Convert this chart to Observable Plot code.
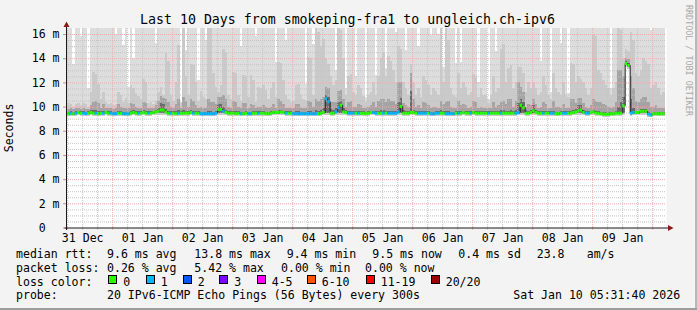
<!DOCTYPE html>
<html><head><meta charset="utf-8">
<script src="https://cdn.jsdelivr.net/npm/d3@7"></script>
<script src="https://cdn.jsdelivr.net/npm/@observablehq/plot@0.6"></script>
<style>
html,body{margin:0;padding:0;background:#F3F3F3;}
#chart{position:relative;width:697px;height:310px;background:#F3F3F3;overflow:hidden;font-family:"DejaVu Sans Mono",monospace;color:#000;}
#chart svg{position:absolute;left:0;top:0;}
.t{position:absolute;white-space:pre;font-size:11.55px;line-height:11.55px;}
.box{position:absolute;width:7px;height:7px;border:1px solid #000;}
#bR{position:absolute;right:0;top:0;width:2px;height:310px;background:#B8B8B8;}
#bB{position:absolute;left:0;bottom:0;width:697px;height:2px;background:#9E9E9E;}
</style></head><body>
<div id="chart"><div id="bR"></div><div id="bB"></div></div>
<script>
// ---- data: hourly buckets starting 2025-12-31 05:00 UTC (240 buckets) ----
const median = [
9.5,9.45,9.5,9.45,9.5,9.55,9.5,9.5,9.45,9.5,9.55,9.5,9.5,9.45,9.5,9.5,9.55,9.5,9.5,9.45,9.45,9.5,9.5,9.45,
9.45,9.45,9.5,9.55,9.5,9.5,9.5,9.55,9.5,9.5,9.5,9.55,9.6,9.65,9.75,9.75,9.6,9.5,9.5,9.5,9.45,9.5,9.5,9.5,
9.5,9.5,9.55,9.5,9.5,9.5,9.45,9.45,9.45,9.45,9.45,9.45,9.5,9.8,9.8,9.65,9.55,9.5,9.5,9.5,9.45,9.5,9.45,9.45,
9.5,9.45,9.45,9.5,9.5,9.5,9.5,9.5,9.45,9.45,9.5,9.55,9.55,9.55,9.6,9.55,9.5,9.5,9.5,9.45,9.45,9.45,9.45,9.45,
9.45,9.45,9.45,9.45,9.45,9.45,9.5,9.55,10.7,10.45,9.5,9.5,9.6,9.95,10.15,9.6,9.55,9.5,9.5,9.5,9.5,9.5,9.5,9.5,
9.45,9.5,9.55,9.55,9.5,9.5,9.5,9.5,9.5,9.5,9.5,9.5,9.5,9.6,10.05,9.5,9.5,9.5,9.55,9.55,9.5,9.5,9.5,9.5,
9.5,9.5,9.45,9.45,9.5,9.5,9.5,9.5,9.45,9.45,9.45,9.45,9.5,9.5,9.5,9.55,9.5,9.5,9.5,9.55,9.5,9.5,9.5,9.5,
9.5,9.5,9.5,9.5,9.5,9.5,9.5,9.5,9.5,9.5,9.5,9.5,9.5,9.55,10.15,9.95,9.5,9.5,9.55,9.7,9.55,9.5,9.5,9.5,
9.5,9.5,9.5,9.5,9.45,9.45,9.5,9.5,9.5,9.5,9.5,9.55,9.6,9.7,9.75,9.55,9.5,9.5,9.55,9.6,9.5,9.5,9.45,9.4,
9.4,9.4,9.45,9.45,9.5,9.5,9.5,10.1,13.6,13.45,9.5,9.55,9.55,9.55,9.65,9.65,9.65,9.4,9.35,9.45,9.45,9.45,9.45,9.45];
const lostPings = [
1,0,1,0,1,0,0,1,1,0,0,0,1,0,0,1,0,0,1,1,1,0,0,1,
1,1,0,0,0,1,0,0,0,1,0,0,0,0,0,0,0,0,1,0,0,1,0,0,
0,0,0,1,0,0,1,1,1,1,1,1,1,0,0,1,0,0,0,0,0,0,1,0,
0,1,1,0,0,1,0,0,0,0,0,0,0,0,0,0,1,0,0,1,1,1,1,1,
1,1,1,1,1,0,0,0,1,1,0,0,1,1,0,0,0,1,1,1,0,1,0,0,
0,0,0,1,1,0,0,1,0,1,1,1,1,1,0,0,0,0,0,0,0,1,1,1,
1,0,1,1,1,1,0,0,1,1,1,1,0,1,0,0,0,0,1,0,0,0,0,0,
0,1,0,0,0,0,1,0,0,0,0,0,1,1,0,0,0,0,0,0,0,0,0,1,
0,0,1,1,0,0,0,1,1,0,0,0,0,0,0,0,1,1,0,0,0,0,0,0,
0,0,0,0,0,0,0,0,0,0,1,1,0,0,0,0,0,1,1,0,0,0,0,0];
const pingMax = [
17,17,17,13.5,17,17,15.8,17,17,11.5,17,17,17,17,17,17,17,17,17,17,16.0,17,17,15.1,
17,11.6,17,14.0,17,17,17,17,17,17,17,17,15.3,17,17,17,17,17,17,17,17,17,10.4,17,
14.7,17,17,17,17,12.2,17,17,15.5,17,17,17,17,17,17,17,17,17,17,17,17,17,15.0,17,
17,17,17,17,15.8,17,17,17,17,17,17,17,13.7,17,17,17,15.5,17,17,17,17,17,17,17,
11.9,17,17,15.2,17,17,17,17,17,17,17,17,13.0,17,17,17,11.5,17,17,17,12.5,17,17,17,
10.8,17,17,17,12.6,17,17,17,13.2,17,17,17,16.2,17,17,17,14.7,17,17,17,17,15.0,17,17,
17,17,15.9,17,17,16.0,17,13.3,17,17,17,17,13.6,17,13.7,17,17,17,17,17,17,12.0,17,17,
17,10.6,17,17,14.6,17,17,17,17,17,17,17,17,17,17,17,17,17,17,17,17,17,13.8,17,
17,17,11.2,17,17,17,15.3,17,17,11.1,17,17,17,17,17,17,17,17,17,17,17,17,17,17,
17,17,11.5,17,17,17,17,17,17,17,17,17,17,17,17,17,17,17,16.3,17,17,17,17,17];
const pingP19 = [
10.8,10.3,10.2,10.0,10.2,10.3,10.1,10.3,10.2,10.0,11.2,12.9,12.7,11.9,10.6,11.2,10.4,10.2,10.3,10.1,10.2,11.2,11.0,10.4,
10.7,10.3,11.8,11.5,11.1,10.9,10.6,12.3,12.0,10.3,10.4,10.2,10.5,11.2,11.6,11.0,14.4,13.8,11.0,10.5,12.0,15.1,10.3,16.8,
12.5,11.0,13.5,13.4,12.0,10.5,11.3,10.8,10.6,16.8,16.8,12.8,11.6,11.2,11.8,14.8,14.5,11.0,10.6,12.9,12.8,11.0,10.5,12.6,
12.5,10.8,12.6,12.2,10.4,11.6,11.5,11.8,11.4,10.6,11.5,12.0,10.8,13.7,13.6,12.2,11.0,10.6,10.4,10.5,11.8,11.9,11.0,10.6,
10.5,14.1,14.0,11.0,16.5,16.2,15.0,15.6,14.0,13.5,12.5,11.8,12.2,16.6,16.3,14.0,11.0,12.5,12.7,11.2,11.0,11.8,11.5,10.9,
10.4,11.0,11.2,12.0,11.0,12.5,14.0,14.5,12.5,14.2,13.8,13.0,12.0,15.0,14.8,12.0,11.5,11.0,13.5,12.0,11.0,11.5,10.8,12.5,
12.2,11.8,11.0,11.5,11.3,11.0,16.6,12.0,16.5,15.5,11.5,11.0,10.8,12.8,11.5,12.0,11.6,11.0,11.2,12.7,12.5,10.8,11.5,11.0,
11.0,10.3,11.0,12.5,11.2,11.5,14.8,15.2,12.0,13.2,13.4,11.5,12.0,13.3,13.3,12.8,11.2,12.0,11.5,12.0,11.5,11.0,11.2,12.5,
11.8,11.0,10.6,12.8,11.5,11.2,11.0,12.0,11.0,10.8,13.6,13.5,12.0,12.5,12.3,12.0,11.5,11.0,11.5,16.0,15.8,13.0,12.8,12.2,
11.8,11.5,11.0,11.5,12.0,16.5,16.3,14.0,14.8,14.6,16.2,15.5,12.8,12.5,13.0,14.0,13.8,13.5,11.5,11.8,12.0,11.5,11.0,11.2];
const pingP17 = [
9.9,9.8,9.85,9.8,9.85,9.9,9.8,9.85,9.8,9.8,10.1,10.4,10.5,10.3,9.9,10.2,9.9,9.85,9.9,9.8,9.85,10.2,10.0,9.85,
9.9,9.85,10.3,10.2,10.0,9.9,9.9,10.4,10.3,9.85,9.9,9.9,10.1,10.5,10.9,10.7,10.6,10.4,10.0,9.9,10.2,10.6,9.9,10.8,
10.5,10.0,10.6,10.5,10.1,9.9,10.0,9.85,9.85,10.6,10.4,10.4,10.2,10.8,10.8,11.0,10.6,10.0,9.9,10.5,10.4,10.0,9.9,10.3,
10.3,9.9,10.2,10.1,9.85,10.0,10.0,10.1,10.0,9.85,10.0,10.2,9.9,10.6,10.5,10.2,9.9,9.85,9.85,9.85,10.2,10.2,9.9,9.85,
9.85,10.5,10.4,10.0,10.6,10.5,10.6,10.8,11.6,11.5,10.4,10.4,10.4,11.3,11.4,10.6,10.0,10.4,10.5,10.0,10.0,10.2,10.1,9.9,
9.85,10.0,10.1,10.4,10.0,10.5,10.6,10.6,10.4,10.6,10.5,10.5,10.2,12.0,12.0,10.3,10.1,10.0,12.8,10.6,10.0,10.1,9.9,10.4,
10.3,10.1,9.9,10.0,10.0,9.9,10.5,10.2,10.4,10.5,10.0,9.9,9.9,10.5,10.1,10.2,10.1,9.9,10.0,10.5,10.4,9.9,10.0,9.9,
9.9,9.85,9.9,10.4,10.0,10.1,10.4,10.5,10.2,10.6,10.6,10.0,10.5,12.0,11.6,11.2,10.0,10.2,10.1,10.6,10.2,9.9,10.0,10.4,
10.2,9.9,9.9,10.5,10.0,10.0,9.9,10.2,9.9,9.9,10.6,10.6,10.3,10.7,10.7,10.3,10.0,9.9,10.1,10.6,10.5,10.4,10.4,10.2,
10.1,10.0,9.85,10.0,10.4,13.0,13.0,12.5,14.0,13.9,12.5,11.5,10.5,10.4,10.6,10.8,10.8,10.4,10.0,10.0,10.1,9.9,9.85,9.85];
const pingP14 = [
9.62,9.58,9.62,9.58,9.62,9.67,9.62,9.62,9.58,9.62,9.7,9.75,9.75,9.6,9.62,9.65,9.67,9.62,9.62,9.58,9.58,9.65,9.62,9.58,
9.58,9.58,9.65,9.7,9.62,9.62,9.62,9.7,9.62,9.62,9.62,9.67,9.75,9.85,10.3,10.2,9.8,9.62,9.62,9.62,9.6,9.7,9.62,9.7,
9.65,9.62,9.7,9.65,9.62,9.62,9.58,9.58,9.58,9.65,9.6,9.58,9.65,10.2,10.2,10.0,9.75,9.62,9.62,9.65,9.6,9.62,9.58,9.58,
9.62,9.58,9.58,9.62,9.62,9.62,9.62,9.62,9.58,9.58,9.62,9.67,9.67,9.75,9.75,9.67,9.62,9.62,9.62,9.58,9.6,9.6,9.58,9.58,
9.58,9.6,9.6,9.58,9.7,9.65,9.7,9.9,11.0,10.8,9.8,9.7,9.9,10.4,10.5,9.9,9.7,9.65,9.65,9.62,9.62,9.62,9.62,9.62,
9.58,9.62,9.67,9.67,9.62,9.65,9.7,9.7,9.62,9.65,9.62,9.62,9.65,10.4,10.7,9.7,9.62,9.62,11.3,9.7,9.62,9.62,9.62,9.62,
9.62,9.62,9.58,9.58,9.62,9.62,9.7,9.62,9.6,9.6,9.58,9.58,9.62,9.65,9.62,9.67,9.62,9.62,9.62,9.67,9.65,9.62,9.62,9.62,
9.62,9.62,9.62,9.65,9.62,9.62,9.7,9.75,9.62,9.65,9.7,9.62,9.7,10.3,10.6,10.4,9.7,9.65,9.7,10.1,9.7,9.62,9.62,9.65,
9.62,9.62,9.62,9.65,9.58,9.58,9.62,9.62,9.62,9.62,9.65,9.7,9.8,10.1,10.1,9.7,9.62,9.62,9.67,9.75,9.65,9.62,9.58,9.52,
9.52,9.52,9.58,9.58,9.62,10.0,10.4,10.8,13.75,13.6,10.6,9.9,9.67,9.67,9.8,9.8,9.8,9.55,9.5,9.58,9.58,9.58,9.58,9.58];
const pingLow = [
9.38,9.33,9.37,9.33,9.37,9.42,9.37,9.37,9.33,9.37,9.4,9.37,9.37,9.33,9.37,9.37,9.42,9.37,9.37,9.33,9.33,9.37,9.37,9.33,
9.33,9.33,9.37,9.42,9.37,9.37,9.37,9.42,9.37,9.37,9.37,9.42,9.45,9.45,9.45,9.45,9.45,9.37,9.37,9.37,9.33,9.37,9.37,9.37,
9.37,9.37,9.42,9.37,9.37,9.37,9.33,9.33,9.33,9.33,9.33,9.33,9.37,9.45,9.45,9.45,9.42,9.37,9.37,9.37,9.33,9.37,9.33,9.33,
9.37,9.33,9.33,9.37,9.37,9.37,9.37,9.37,9.33,9.33,9.37,9.42,9.42,9.42,9.45,9.42,9.37,9.37,9.37,9.33,9.33,9.33,9.33,9.33,
9.33,9.33,9.33,9.33,9.33,9.33,9.37,9.42,9.45,9.45,9.37,9.37,9.45,9.45,9.45,9.45,9.42,9.37,9.37,9.37,9.37,9.37,9.37,9.37,
9.33,9.37,9.42,9.42,9.37,9.37,9.37,9.37,9.37,9.37,9.37,9.37,9.37,9.45,9.45,9.37,9.37,9.37,9.42,9.42,9.37,9.37,9.37,9.37,
9.37,9.37,9.33,9.33,9.37,9.37,9.37,9.37,9.33,9.33,9.33,9.33,9.37,9.37,9.37,9.42,9.37,9.37,9.37,9.42,9.37,9.37,9.37,9.37,
9.37,9.37,9.37,9.37,9.37,9.37,9.37,9.37,9.37,9.37,9.37,9.37,9.37,9.42,9.45,9.45,9.37,9.37,9.42,9.45,9.42,9.37,9.37,9.37,
9.37,9.37,9.37,9.37,9.33,9.33,9.37,9.37,9.37,9.37,9.37,9.42,9.45,9.45,9.45,9.42,9.37,9.37,9.42,9.45,9.37,9.37,9.33,9.28,
9.28,9.28,9.33,9.33,9.37,9.37,9.37,9.45,13.45,13.3,9.37,9.42,9.42,9.42,9.45,9.45,9.45,9.28,9.22,9.33,9.33,9.33,9.33,9.33];
const pingMin = [
9.25,9.2,9.25,9.2,9.25,9.28,9.25,9.25,9.2,9.25,9.28,9.25,9.25,9.2,9.25,9.25,9.28,9.25,9.25,9.2,9.2,9.25,9.25,9.2,
9.2,9.2,9.25,9.28,9.25,9.25,9.25,9.28,9.25,9.25,9.25,9.28,9.3,9.3,9.3,9.3,9.3,9.25,9.25,9.25,9.2,9.25,9.25,9.25,
9.25,9.25,9.28,9.25,9.25,9.25,9.2,9.2,9.2,9.2,9.2,9.2,9.25,9.3,9.3,9.3,9.28,9.25,9.25,9.25,9.2,9.25,9.2,9.2,
9.25,9.2,9.2,9.25,9.25,9.25,9.25,9.25,9.2,9.2,9.25,9.28,9.28,9.28,9.3,9.28,9.25,9.25,9.25,9.2,9.2,9.2,9.2,9.2,
9.2,9.2,9.2,9.2,9.2,9.2,9.25,9.28,9.3,9.3,9.25,9.25,9.3,9.3,9.3,9.3,9.28,9.25,9.25,9.25,9.25,9.25,9.25,9.25,
9.2,9.25,9.28,9.28,9.25,9.25,9.25,9.25,9.25,9.25,9.25,9.25,9.25,9.3,9.3,9.25,9.25,9.25,9.28,9.28,9.25,9.25,9.25,9.25,
9.25,9.25,9.2,9.2,9.25,9.25,9.25,9.25,9.2,9.2,9.2,9.2,9.25,9.25,9.25,9.28,9.25,9.25,9.25,9.28,9.25,9.25,9.25,9.25,
9.25,9.25,9.25,9.25,9.25,9.25,9.25,9.25,9.25,9.25,9.25,9.25,9.25,9.28,9.3,9.3,9.25,9.25,9.28,9.3,9.28,9.25,9.25,9.25,
9.25,9.25,9.25,9.25,9.2,9.2,9.25,9.25,9.25,9.25,9.25,9.28,9.3,9.3,9.3,9.28,9.25,9.25,9.28,9.3,9.25,9.25,9.2,9.15,
9.15,9.15,9.2,9.2,9.25,9.25,9.25,9.3,13.3,13.15,9.25,9.28,9.28,9.28,9.3,9.3,9.3,9.15,9.1,9.2,9.2,9.2,9.2,9.2];

const lossLabels = ["0","1","2","3","4-5","6-10","11-19","20/20"];
const lossColors = ["#26FF00","#00B8FF","#0059FF","#7E00FF","#FF00FF","#FF5500","#FF0000","#A10000"];
const yTicks = [0,2,4,6,8,10,12,14,16];
const titleText = "Last 10 Days from smokeping-fra1 to ungleich.ch-ipv6";
const yLabel = "Seconds";
const sideText = "RRDTOOL / TOBI OETIKER";
const legendLines = [
  {y: 258.8, items: [[16,"median rtt:"],[107,"9.6 ms avg"],[194.3,"13.8 ms max"],[286.7,"9.4 ms min"],[372.3,"9.5 ms now"],[458.3,"0.4 ms sd"],[536.7,"23.8"],[586.7,"am/s"]]},
  {y: 272.6, items: [[16,"packet loss:"],[107,"0.26 % avg"],[194.3,"5.42 % max"],[281,"0.00 % min"],[365,"0.00 % now"]]},
  {y: 286.3, items: [[16,"loss color:"]]},
  {y: 300.0, items: [[16,"probe:"],[107,"20 IPv6-ICMP Echo Pings (56 Bytes) every 300s"],[513.3,"Sat Jan 10 05:31:40 2026"]]}
];
const swatchX = [108.3,145.7,182.7,219.3,256.7,306.7,365.7,430.7];

// ---- build ----
const HOUR = 3600e3;
const bucket0 = Date.UTC(2025,11,31,5,0,0);
const tStart = new Date(Date.UTC(2025,11,31,5,31,40));
const tEnd = new Date(Date.UTC(2026,0,10,5,31,40));
function lossLabel(n){ if(n<=3) return lossLabels[n]; if(n<=5) return "4-5"; if(n<=10) return "6-10"; if(n<20) return "11-19"; return "20/20"; }
const rows = median.map((m,i)=>({
  a: new Date(bucket0+i*HOUR), b: new Date(bucket0+(i+1)*HOUR),
  median: m, loss: lossLabel(lostPings[i]),
  pMin: pingMin[i], pLow: pingLow[i], p14: pingP14[i], p17: pingP17[i], p19: pingP19[i], pMax: pingMax[i]
}));
const yMinor = d3.range(0, 16.5, 0.5).filter(v => v % 2 !== 0);
const midnights = d3.utcDay.range(tStart, tEnd);
const sixHours = d3.utcHour.every(6).range(tStart, tEnd).filter(d => d.getUTCHours() !== 0);
const noons = midnights.map(d => new Date(+d - 12*HOUR));

const minorStyle = {stroke: "#C4C4C4", strokeWidth: 1, strokeDasharray: "1,1"};
const majorStyle = {stroke: "#F5A8A8", strokeWidth: 1, strokeDasharray: "1,1"};
const bandOpts = (y1, y2, fill) => ({x1: "a", x2: "b", y1, y2, fill, clip: true, shapeRendering: "crispEdges"});

const plot = Plot.plot({
  width: 697, height: 250,
  marginLeft: 66, marginRight: 31, marginTop: 28, marginBottom: 22.5,
  x: {type: "utc", domain: [tStart, tEnd]},
  y: {domain: [0, 16.5]},
  color: {domain: lossLabels, range: lossColors},
  style: {background: "transparent", fontFamily: "DejaVu Sans Mono", fontSize: "11.55px", color: "#000", overflow: "visible"},
  marks: [
    Plot.frame({fill: "#FFFFFF", stroke: null}),
    Plot.rect(rows, bandOpts("pMin", "pMax", "#DDDDDD")),
    Plot.rect(rows, bandOpts("pMin", "p19", "#CACACA")),
    Plot.rect(rows, bandOpts("pLow", "p17", "#A4A4A4")),
    Plot.rect(rows, bandOpts("pLow", "p14", "#6B6B6B")),
    Plot.ruleY(yMinor, minorStyle),
    Plot.ruleX(sixHours, minorStyle),
    Plot.ruleY(yTicks.filter(v => v > 0), majorStyle),
    Plot.ruleX(midnights, majorStyle),
    Plot.line(rows, {x: "a", y: "median", curve: "step-after", stroke: "#202020", strokeWidth: 1, clip: true}),
    Plot.ruleY(rows, {x1: "a", x2: "b", y: "median", stroke: "loss", strokeWidth: 3, clip: true}),
    Plot.axisY({ticks: yTicks, tickSize: 3, tickPadding: 4, stroke: "#D08C8C", tickFormat: v => v === 0 ? "0\u00a0\u00a0" : `${v} m`}),
    Plot.axisX({ticks: noons, tickSize: 0, tickPadding: 6, tickFormat: d3.utcFormat("%d %b")}),
    Plot.axisX({ticks: midnights, tickSize: 2, stroke: "#E89090", tickFormat: () => ""}),
    Plot.axisX({ticks: sixHours, tickSize: 2, stroke: "#BBBBBB", tickFormat: () => ""})
  ]
});
const chart = document.getElementById("chart");
chart.appendChild(plot);

// axis lines and arrows, positioned from the plot's own scales
const sx = plot.scale("x"), sy = plot.scale("y");
const x0 = sx.apply(tStart) + 0.5, x1 = sx.apply(tEnd), y0 = sy.apply(0) + 0.5, yTop = sy.apply(16.5);
const svg = d3.select(plot);
svg.append("line").attr("x1", x0).attr("x2", x0).attr("y1", y0 + 2).attr("y2", yTop - 4).attr("stroke", "#1A1A1A");
svg.append("line").attr("x1", x0 - 2).attr("x2", x1 + 4).attr("y1", y0).attr("y2", y0).attr("stroke", "#1A1A1A");
svg.append("path").attr("d", `M${x0-3},${yTop-1}L${x0+3},${yTop-1}L${x0},${yTop-6.5}Z`).attr("fill", "#8B1A1A");
svg.append("path").attr("d", `M${x1+2},${y0-3}L${x1+2},${y0+3}L${x1+7.5},${y0}Z`).attr("fill", "#8B1A1A");

// texts
function addText(txt, x, baseline, size, extra) {
  const d = document.createElement("div");
  d.className = "t"; d.textContent = txt;
  d.style.fontSize = size + "px"; d.style.lineHeight = size + "px";
  const topOff = -(size*1.164 - size)/2 + 0.928*size;
  d.style.left = x + "px"; d.style.top = (baseline - topOff) + "px";
  if (extra) Object.assign(d.style, extra);
  chart.appendChild(d); return d;
}
const title = addText(titleText, 0, 24, 13.25);
title.style.width = "697px"; title.style.textAlign = "center"; title.style.left = "-1px";
for (const line of legendLines) for (const [x, s] of line.items) addText(s, x, line.y, 11.55);
swatchX.forEach((x, i) => {
  const b = document.createElement("div"); b.className = "box";
  b.style.left = x + "px"; b.style.top = "274.5px"; b.style.background = lossColors[i];
  chart.appendChild(b);
  addText(lossLabels[i], x + 15, 286.3, 11.55);
});
// rotated labels
const yl = addText(yLabel, 0, 0, 11.55);
yl.style.left = "0px"; yl.style.top = "0px";
yl.style.transformOrigin = "0 0";
yl.style.transform = `translate(4px, ${128 + 24.3}px) rotate(-90deg)`;
const st = addText(sideText, 0, 0, 8.4, {color: "#A8A8A8"});
st.style.left = "0px"; st.style.top = "0px";
st.style.transformOrigin = "0 0";
st.style.transform = "translate(693px, 5px) rotate(90deg)";
</script></body></html>
